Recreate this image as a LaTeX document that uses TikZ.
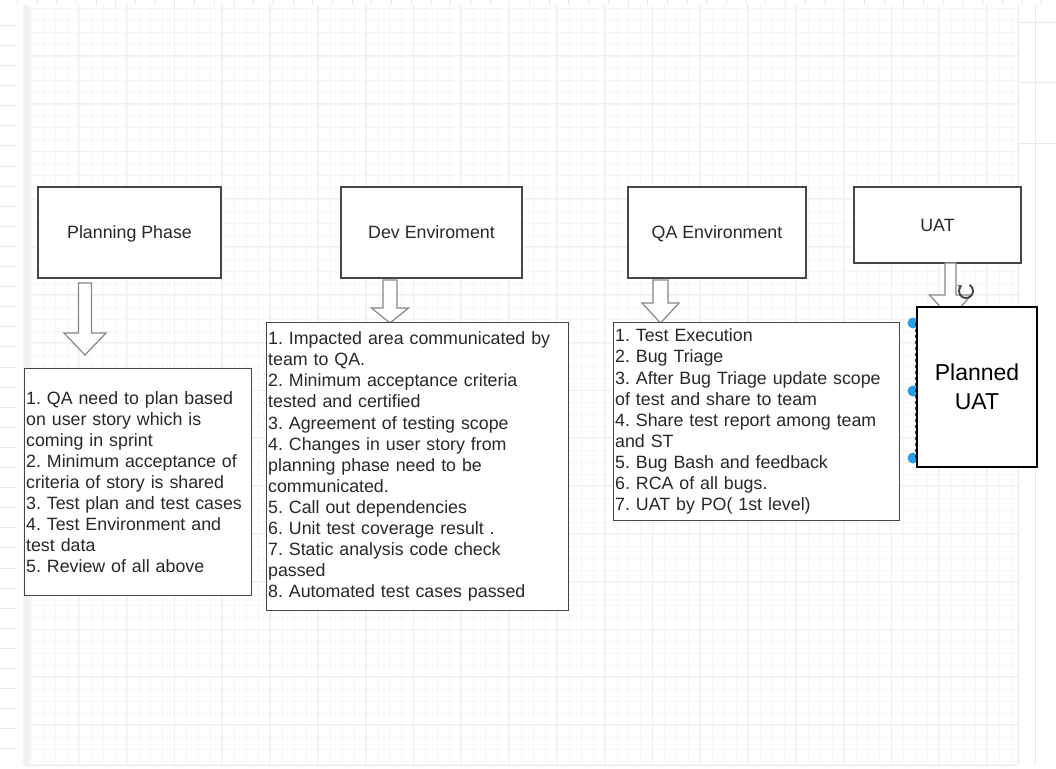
\documentclass[tikz,border=0pt]{standalone}
\usepackage{fontspec}
\setmainfont{Liberation Sans}
\usepackage{xcolor}
\usetikzlibrary{positioning,arrows.meta}
\definecolor{txtgray}{RGB}{40,40,40}
\definecolor{boxline}{RGB}{70,70,70}
\definecolor{arrowline}{RGB}{135,135,135}
\definecolor{gridminor}{RGB}{246,246,246}
\definecolor{gridmajor}{RGB}{238,238,238}
\definecolor{rulerline}{RGB}{232,232,232}
\definecolor{handle}{RGB}{41,160,230}
\frenchspacing

\begin{document}
\begin{tikzpicture}[x=1pt, y=-1pt,
  every node/.style={font=\fontsize{17.8}{21.1}\selectfont, text=txtgray},
  phase/.style={draw=boxline, line width=1.3pt, fill=white, inner sep=0pt, text height=2.6ex, text depth=0.3ex},
  listbox/.style={draw=boxline, line width=1.3pt, fill=white, align=left, inner xsep=1.5pt, inner ysep=0pt, anchor=north west},
  hollow/.style={draw=arrowline, fill=white, line width=1.2pt, line join=miter}]
\useasboundingbox (0,0) rectangle (1056,768);
\fill[white] (0,0) rectangle (1056,768);

% Canvas grid
\begin{scope}
\clip (25,5) rectangle (1018,765);
\foreach \gx in {0,...,82} \draw[gridminor, line width=0.7pt] ({31.3+11.95*\gx},5) -- ({31.3+11.95*\gx},765);
\foreach \gy in {0,...,63} \draw[gridminor, line width=0.7pt] (25,{8.3+11.95*\gy}) -- (1018,{8.3+11.95*\gy});
\foreach \gx in {0,...,19} \draw[gridmajor, line width=0.8pt] ({78.3+47.8*\gx},5) -- ({78.3+47.8*\gx},765);
\foreach \gy in {0,...,14} \draw[gridmajor, line width=0.8pt] (25,{55.3+47.8*\gy}) -- (1018,{55.3+47.8*\gy});
\end{scope}
\fill[gray!10] (23,5) rectangle (30,765);
\draw[rulerline] (1018,5) -- (1018,765);
\draw[rulerline] (25,765) -- (1018,765);

% Rulers
\foreach \rx in {0,...,52} \draw[rulerline] ({17+19.7*\rx},0) -- ({17+19.7*\rx},5);
\foreach \ry in {0,...,36} \draw[rulerline] (0,{25+20.1*\ry}) -- (16,{25+20.1*\ry});
\foreach \ry in {22,82,143} \draw[rulerline] (1018,\ry) -- (1056,\ry);
\draw[rulerline] (1035,5) -- (1035,765);

% Phases
\node[phase, minimum width=183pt, minimum height=91pt] (plan) at (129.5,232.5) {Planning Phase};
\node[phase, minimum width=181pt, minimum height=91pt] (dev) at (431.5,232.5) {Dev Enviroment};
\node[phase, minimum width=178pt, minimum height=91pt] (qa) at (717,232.5) {QA Environment};
\node[phase, minimum width=167pt, minimum height=76pt] (uat) at (937.5,225) {UAT};

% Down arrows
\foreach \cx/\ya/\yb/\yc/\sw/\hw in {85/283/333/355/6.5/21, 390/280/308/323/7/18.5, 660.5/280/303/323/7.5/18.5, 950.5/263/295/318/5.5/21}
  \draw[hollow] ({\cx-\sw},\ya) -- ({\cx+\sw},\ya) -- ({\cx+\sw},\yb) -- ({\cx+\hw},\yb) -- (\cx,\yc) -- ({\cx-\hw},\yb) -- ({\cx-\sw},\yb) -- cycle;
\draw[black!75, line width=1.8pt, -{Stealth[length=4pt,width=5pt]}] (966,291) ++(-60:7) arc (-60:235:7);

% Checklists
\node[listbox, text width=224pt, minimum height=227pt] (planlist) at (24,368) {1. QA need to plan based\\on user story which is\\coming in sprint\\2. Minimum acceptance of\\criteria of story is shared\\3. Test plan and test cases\\4. Test Environment and\\test data\\5. Review of all above};
\node[listbox, text width=299pt, minimum height=288pt] (devlist) at (266,322) {1. Impacted area communicated by\\team to QA.\\2. Minimum acceptance criteria\\tested and certified\\3. Agreement of testing scope\\4. Changes in user story from\\planning phase need to be\\communicated.\\5. Call out dependencies\\6. Unit test coverage result .\\7. Static analysis code check\\passed\\8. Automated test cases passed};
\node[listbox, text width=283pt, minimum height=198pt] (qalist) at (613,322) {1. Test Execution\\2. Bug Triage\\3. After Bug Triage update scope\\of test and share to team\\4. Share test report among team\\and ST\\5. Bug Bash and feedback\\6. RCA of all bugs.\\7. UAT by PO( 1st level)};

% Selected UAT plan
\foreach \hy in {323,391,458} \fill[handle] (913,\hy) circle (5.5pt);
\draw[black!75, dashed, line width=0.8pt] (915,323) -- (915,458);
\node[draw=black, line width=2pt, fill=white, minimum width=120pt, minimum height=160pt, align=center, font=\fontsize{23}{29}\selectfont, text=black] (planned) at (977,387) {Planned\\UAT};
\end{tikzpicture}
\end{document}
